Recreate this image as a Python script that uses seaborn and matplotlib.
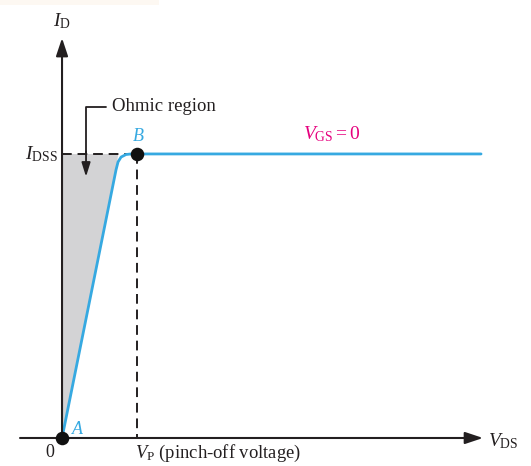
import matplotlib
matplotlib.use("Agg")
import matplotlib.pyplot as plt
import seaborn as sns
import pandas as pd
from matplotlib.patches import Polygon, Rectangle

# JFET drain characteristic for V_GS = 0 (V_DS normalised to V_P, I_D to I_DSS)
vds = [0.0, 0.72, 0.747, 0.787, 0.853, 0.92, 1.0, 5.587]
id_ = [0.0, 0.944, 0.972, 0.989, 0.998, 1.0, 1.0, 1.0]

# Ohmic-region shading outline
ohmic_x = [0.0, 0.72, 0.75, 0.0]
ohmic_y = [0.0, 0.944, 1.0, 1.0]

point_names = ["A", "B"]
point_x = [0.0, 1.0]
point_y = [0.0, 1.0]

sns.set_theme(style="white")
plt.rcParams["font.family"] = ["Liberation Serif", "DejaVu Serif"]
plt.rcParams["mathtext.fontset"] = "custom"
plt.rcParams["mathtext.rm"] = "Liberation Serif"
plt.rcParams["mathtext.it"] = "Liberation Serif:italic"

INK = "#231f20"
BLUE = "#36a9e1"
PINK = "#e6007e"
GREY = "#d3d3d5"

fig = plt.figure(figsize=(5.31, 4.66), dpi=100)
ax = fig.add_axes([0, 0, 1, 1])
ax.set_xlim(-0.827, 6.253)
ax.set_ylim(-0.0986, 1.542)
ax.axis("off")

# faint paper band along the top edge
fig.patches.append(Rectangle((0, 0.99), 0.3, 0.01, transform=fig.transFigure,
                             facecolor="#fdf8f2", edgecolor="none", zorder=0))

# shaded ohmic region
ax.add_patch(Polygon(list(zip(ohmic_x, ohmic_y)), closed=True,
                     facecolor=GREY, edgecolor="none", zorder=1))

# characteristic curve
df = pd.DataFrame({"VDS": vds, "ID": id_})
sns.lineplot(data=df, x="VDS", y="ID", sort=False, color=BLUE, lw=2.0,
             ax=ax, zorder=3, legend=False)

# guide lines to I_DSS and V_P
ax.plot([0, 1.0], [1.0, 1.0], color=INK, lw=1.4, dashes=(5, 3), zorder=2)
ax.plot([1.0, 1.0], [1.0, 0.0], color=INK, lw=1.4, dashes=(5, 3), zorder=2)

# axes with arrow heads
arrow = dict(arrowstyle="-|>,head_length=0.9,head_width=0.3", lw=1.5,
             color=INK, shrinkA=0, shrinkB=0)
ax.annotate("", xy=(0, 1.408), xytext=(0, 0), arrowprops=arrow, zorder=4)
ax.annotate("", xy=(5.613, 0), xytext=(-0.56, 0), arrowprops=arrow, zorder=4)

# points A and B
ax.scatter(point_x, point_y, s=95, color="#111111", zorder=5, linewidths=0)
ax.text(0.2, 0.03, point_names[0], color=BLUE, fontsize=13, style="italic",
        ha="center", va="center", zorder=6)
ax.text(1.02, 1.06, point_names[1], color=BLUE, fontsize=13, style="italic",
        ha="center", va="center", zorder=6)

# ohmic region callout
ax.plot([0.587, 0.32, 0.32], [1.165, 1.165, 1.0], color=INK, lw=1.3, zorder=4)
ax.annotate("", xy=(0.32, 0.92), xytext=(0.32, 1.01),
            arrowprops=dict(arrowstyle="-|>,head_length=0.7,head_width=0.22",
                            lw=1.3, color=INK, shrinkA=0, shrinkB=0), zorder=4)
ax.text(0.66, 1.168, "Ohmic region", color=INK, fontsize=13.5,
        ha="left", va="center")

# axis and level labels
ax.text(0.0, 1.468, r"$I_{\mathrm{D}}$", color=INK, fontsize=14,
        ha="center", va="center")
ax.text(-0.06, 1.0, r"$I_{\mathrm{DSS}}$", color=INK, fontsize=14,
        ha="right", va="center")
ax.text(5.68, -0.01, r"$V_{\mathrm{DS}}$", color=INK, fontsize=14,
        ha="left", va="center")
ax.text(-0.16, -0.05, "0", color=INK, fontsize=13, ha="center", va="center")
ax.text(0.97, -0.055, r"$V_{\mathrm{P}}$ (pinch-off voltage)", color=INK,
        fontsize=13.4, ha="left", va="center")
ax.text(3.6, 1.07, r"$V_{\mathrm{GS}} = 0$", color=PINK, fontsize=14,
        ha="center", va="center")

fig.savefig("out.png", dpi=100)
